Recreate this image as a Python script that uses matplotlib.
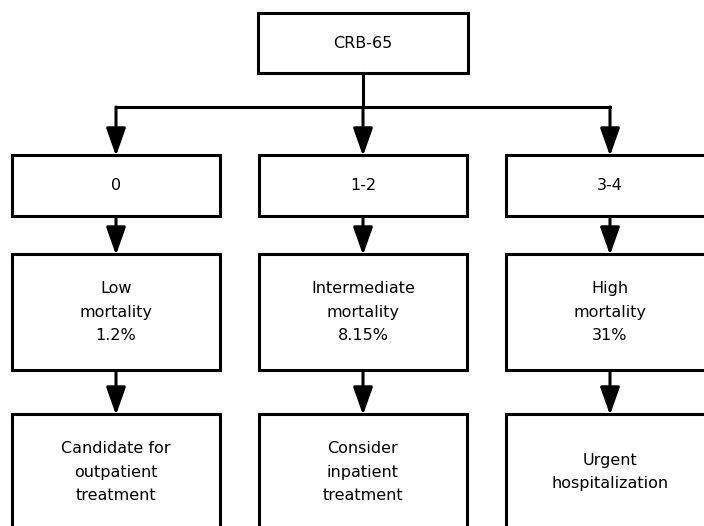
"""
CRB-65 flowchart: score groups, mortality and suggested management.
"""

import matplotlib.pyplot as plt
from matplotlib.patches import Rectangle

# chart content
root_label = "CRB-65"
score_labels = ["0", "1-2", "3-4"]
risk_labels = ["Low\nmortality\n1.2%",
               "Intermediate\nmortality\n8.15%",
               "High\nmortality\n31%"]
action_labels = ["Candidate for\noutpatient\ntreatment",
                 "Consider\ninpatient\ntreatment",
                 "Urgent\nhospitalization"]

# layout in pixel units (y grows downward)
col_x = [116, 363, 610]
box_w = 208
root_box = (258, 13, 210, 60)       # x, y, w, h
row_y = [(155, 61), (254, 116), (414, 116)]   # top, height
branch_y = 107
lw = 2.2
fs = 11.5


def box(ax, x, y, w, h, text):
    ax.add_patch(Rectangle((x, y), w, h, facecolor="white",
                           edgecolor="black", linewidth=lw, zorder=2))
    ax.text(x + w / 2, y + h / 2, text, ha="center", va="center",
            fontsize=fs, linespacing=1.7, zorder=3)


def arrow(ax, x, y0, y1):
    ax.annotate("", xy=(x, y1), xytext=(x, y0),
                arrowprops=dict(arrowstyle="-|>,head_length=1.7,head_width=0.6",
                                color="black", lw=lw, shrinkA=0, shrinkB=0),
                zorder=1)


fig = plt.figure(figsize=(7.04, 5.26), dpi=100)
ax = fig.add_axes([0, 0, 1, 1])
ax.set_xlim(0, 704)
ax.set_ylim(526, 0)
ax.axis("off")

# root box and connector
rx, ry, rw, rh = root_box
box(ax, rx, ry, rw, rh, root_label)
ax.plot([rx + rw / 2, rx + rw / 2], [ry + rh, branch_y], color="black", lw=lw)
ax.plot([col_x[0], col_x[-1]], [branch_y, branch_y], color="black", lw=lw,
        solid_capstyle="projecting")

rows = [score_labels, risk_labels, action_labels]
for i, cx in enumerate(col_x):
    prev_bottom = branch_y
    for (top, h), labels in zip(row_y, rows):
        arrow(ax, cx, prev_bottom, top + 1)
        box(ax, cx - box_w / 2, top, box_w, h, labels[i])
        prev_bottom = top + h

fig.savefig("out.png", dpi=100, facecolor="white")
